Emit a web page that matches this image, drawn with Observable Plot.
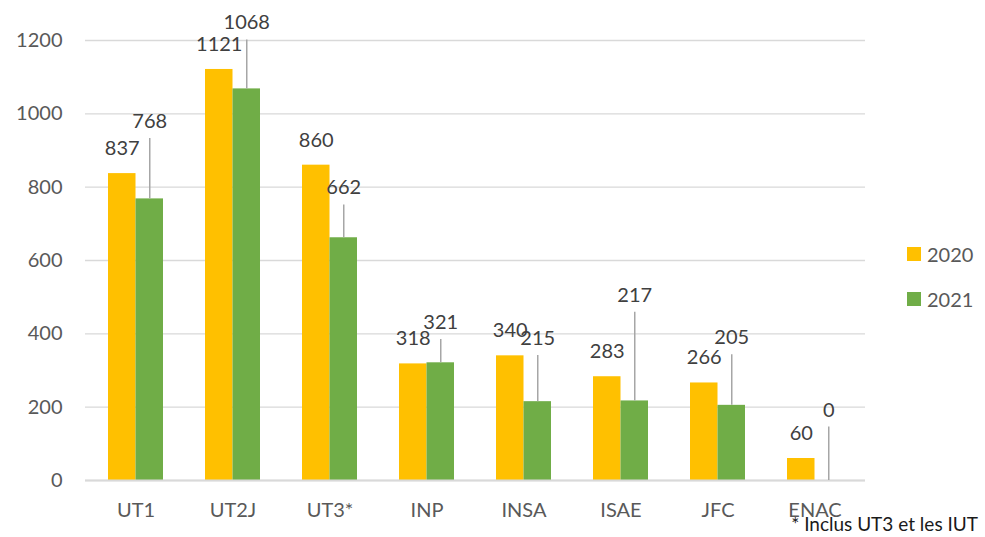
<!DOCTYPE html>
<html>
<head>
<meta charset="utf-8">
<script src="https://cdn.jsdelivr.net/npm/d3@7"></script>
<script src="https://cdn.jsdelivr.net/npm/@observablehq/plot@0.6"></script>
<style>
  html, body { margin: 0; padding: 0; background: #ffffff; }
  #wrap { position: relative; width: 985px; height: 537px; font-family: Lato, "Open Sans", sans-serif; }
  .legend-item { position: absolute; display: flex; align-items: center; font-size: 20px; color: #595959; line-height: 20px; }
  .swatch { width: 14px; height: 14px; margin-right: 6px; }
  #foot { position: absolute; right: 7px; top: 513px; font-size: 19px; line-height: 22px; color: #1a1a1a; white-space: nowrap; }
</style>
</head>
<body>
<div id="wrap"></div>
<script>
// ---- data ----
const categories = ["UT1", "UT2J", "UT3*", "INP", "INSA", "ISAE", "JFC", "ENAC"];
const years = ["2020", "2021"];
const values2020 = [837, 1121, 860, 318, 340, 283, 266, 60];
const values2021 = [768, 1068, 662, 321, 215, 217, 205, 0];
const yTicks = [0, 200, 400, 600, 800, 1000, 1200];
// positions (in value units) where the moved 2021 labels sit
const labelY2021 = [979, 1248, 798, 431, 387, 505, 389, 192];
const footnote = "* Inclus UT3 et les IUT";

// ---- styles ----
const colors = {"2020": "#FFC000", "2021": "#70AD47"};

const rows2020 = categories.map((c, i) => ({cat: c, value: values2020[i]}));
const rows2021 = categories.map((c, i) => ({cat: c, value: values2021[i], labelY: labelY2021[i]}));

const leaderGap = 17 * 1200 / 440; // gap between label centre and leader top

const chart = Plot.plot({
  width: 985,
  height: 518,
  marginTop: 40,
  marginBottom: 38,
  marginLeft: 85,
  marginRight: 120,
  style: {fontFamily: "Lato, 'Open Sans', sans-serif", fontSize: "20px", color: "#595959", background: "#ffffff", overflow: "visible"},
  x: {domain: categories, paddingInner: 0.436, paddingOuter: 0.218, label: null},
  y: {domain: [0, 1200], label: null},
  marks: [
    Plot.gridY(yTicks, {stroke: "#d9d9d9", strokeOpacity: 1, strokeWidth: 1.3}),
    Plot.axisY(yTicks, {tickSize: 0, tickPadding: 23, label: null, fontSize: 20, fill: "#595959", tickFormat: d => String(d)}),
    Plot.axisX({tickSize: 0, tickPadding: 22, label: null, fontSize: 20, fill: "#595959"}),
    Plot.barY(rows2020, {x: "cat", y: "value", fill: colors["2020"], insetRight: 27.5}),
    Plot.barY(rows2021, {x: "cat", y: "value", fill: colors["2021"], insetLeft: 27.5}),
    Plot.ruleY([0], {stroke: "#d9d9d9", strokeWidth: 2}),
    Plot.ruleX(rows2021, {x: "cat", y1: "value", y2: d => d.labelY - leaderGap, dx: 13.75, stroke: "#a6a6a6", strokeWidth: 1.5}),
    Plot.text(rows2020, {x: "cat", y: "value", text: d => String(d.value), dx: -13.75, dy: -25, fill: "#404040", fontSize: 20}),
    Plot.text(rows2021, {x: "cat", y: "labelY", text: d => String(d.value), dx: 13.75, fill: "#404040", fontSize: 20})
  ]
});

const wrap = document.getElementById("wrap");
wrap.appendChild(chart);

// legend
years.forEach((yr, i) => {
  const item = document.createElement("div");
  item.className = "legend-item";
  item.style.left = "907px";
  item.style.top = (244 + i * 45) + "px";
  const sw = document.createElement("div");
  sw.className = "swatch";
  sw.style.background = colors[yr];
  const tx = document.createElement("span");
  tx.textContent = yr;
  item.appendChild(sw);
  item.appendChild(tx);
  wrap.appendChild(item);
});

const foot = document.createElement("div");
foot.id = "foot";
foot.textContent = footnote;
wrap.appendChild(foot);
</script>
</body>
</html>
